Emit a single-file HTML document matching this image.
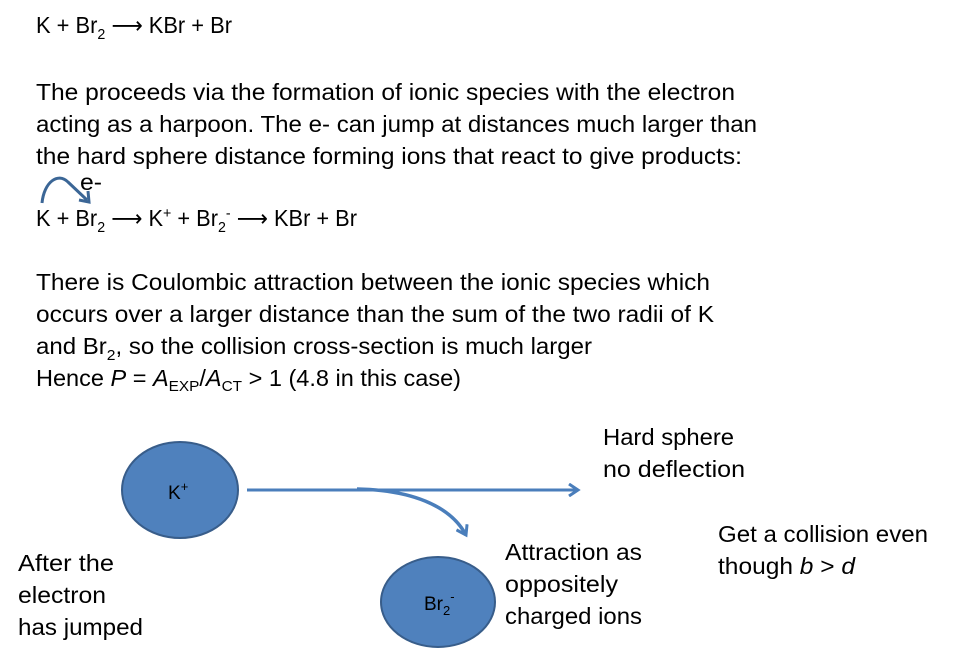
<!DOCTYPE html>
<html><head><meta charset="utf-8"><style>
html,body{margin:0;padding:0;background:#fff;}
svg{display:block;}
text{font-family:"Liberation Sans","DejaVu Sans",sans-serif;font-size:23px;fill:#000;}
.s{font-size:15px;}
</style></head><body>
<svg width="978" height="652" viewBox="0 0 978 652" xmlns="http://www.w3.org/2000/svg">
<defs>
<marker id="ah" markerWidth="14" markerHeight="14" refX="10" refY="7" orient="auto" markerUnits="userSpaceOnUse">
<path d="M1,1 L10,7 L1,13" fill="none" stroke="#4a7ebb" stroke-width="3"/>
</marker>
</defs>
<text x="36" y="33" textLength="196" lengthAdjust="spacingAndGlyphs">K + Br<tspan class="s" dy="6">2</tspan><tspan dy="-6"> ⟶ KBr + Br</tspan></text>
<text x="36" y="100" textLength="699" lengthAdjust="spacingAndGlyphs">The proceeds via the formation of ionic species with the electron</text>
<text x="36" y="132" textLength="721" lengthAdjust="spacingAndGlyphs">acting as a harpoon. The e- can jump at distances much larger than</text>
<text x="36" y="164" textLength="706" lengthAdjust="spacingAndGlyphs">the hard sphere distance forming ions that react to give products:</text>
<text x="80" y="190" textLength="22" lengthAdjust="spacingAndGlyphs">e-</text>
<path d="M42,203 C44,182 58,172 68,182 L87,200" fill="none" stroke="#3b6696" stroke-width="3"/>
<path d="M79,200 L89,202 L88,191" fill="none" stroke="#3b6696" stroke-width="3"/>
<text x="36" y="226" textLength="321" lengthAdjust="spacingAndGlyphs">K + Br<tspan class="s" dy="6">2</tspan><tspan dy="-6"> ⟶ K</tspan><tspan class="s" dy="-8">+</tspan><tspan dy="8"> + Br</tspan><tspan class="s" dy="6">2</tspan><tspan class="s" dy="-14">-</tspan><tspan dy="8"> ⟶ KBr + Br</tspan></text>
<text x="36" y="290" textLength="674" lengthAdjust="spacingAndGlyphs">There is Coulombic attraction between the ionic species which</text>
<text x="36" y="322" textLength="678" lengthAdjust="spacingAndGlyphs">occurs over a larger distance than the sum of the two radii of K</text>
<text x="36" y="354" textLength="556" lengthAdjust="spacingAndGlyphs">and Br<tspan class="s" dy="6">2</tspan><tspan dy="-6">, so the collision cross-section is much larger</tspan></text>
<text x="36" y="386" textLength="425" lengthAdjust="spacingAndGlyphs">Hence <tspan font-style="italic">P</tspan> = <tspan font-style="italic">A</tspan><tspan class="s" dy="5">EXP</tspan><tspan dy="-5">/</tspan><tspan font-style="italic">A</tspan><tspan class="s" dy="5">CT</tspan><tspan dy="-5">  &gt; 1 (4.8 in this case)</tspan></text>

<ellipse cx="180" cy="490" rx="58" ry="48" fill="#4f81bd" stroke="#385d8a" stroke-width="2"/>
<text x="168" y="499" style="font-size:19px">K<tspan class="s" dy="-8" style="font-size:13px">+</tspan></text>
<ellipse cx="438" cy="602" rx="57" ry="45" fill="#4f81bd" stroke="#385d8a" stroke-width="2"/>
<text x="424" y="610" style="font-size:19px">Br<tspan dy="5" style="font-size:13px">2</tspan><tspan dy="-14" style="font-size:13px">-</tspan></text>

<line x1="247" y1="490" x2="578" y2="490" stroke="#4a7ebb" stroke-width="3" marker-end="url(#ah)"/>
<path d="M357,489 C410,490 450,505 466,535" fill="none" stroke="#4a7ebb" stroke-width="3.5" marker-end="url(#ah)"/>

<text x="603" y="445" textLength="131" lengthAdjust="spacingAndGlyphs">Hard sphere</text>
<text x="603" y="477" textLength="142" lengthAdjust="spacingAndGlyphs">no deflection</text>
<text x="505" y="560" textLength="137" lengthAdjust="spacingAndGlyphs">Attraction as</text>
<text x="505" y="592" textLength="113" lengthAdjust="spacingAndGlyphs">oppositely</text>
<text x="505" y="624" textLength="137" lengthAdjust="spacingAndGlyphs">charged ions</text>
<text x="718" y="542" textLength="210" lengthAdjust="spacingAndGlyphs">Get a collision even</text>
<text x="718" y="574" textLength="137" lengthAdjust="spacingAndGlyphs">though <tspan font-style="italic">b</tspan> &gt; <tspan font-style="italic">d</tspan></text>
<text x="18" y="571" textLength="96" lengthAdjust="spacingAndGlyphs">After the</text>
<text x="18" y="603" textLength="88" lengthAdjust="spacingAndGlyphs">electron</text>
<text x="18" y="635" textLength="125" lengthAdjust="spacingAndGlyphs">has jumped</text>
</svg>
</body></html>
